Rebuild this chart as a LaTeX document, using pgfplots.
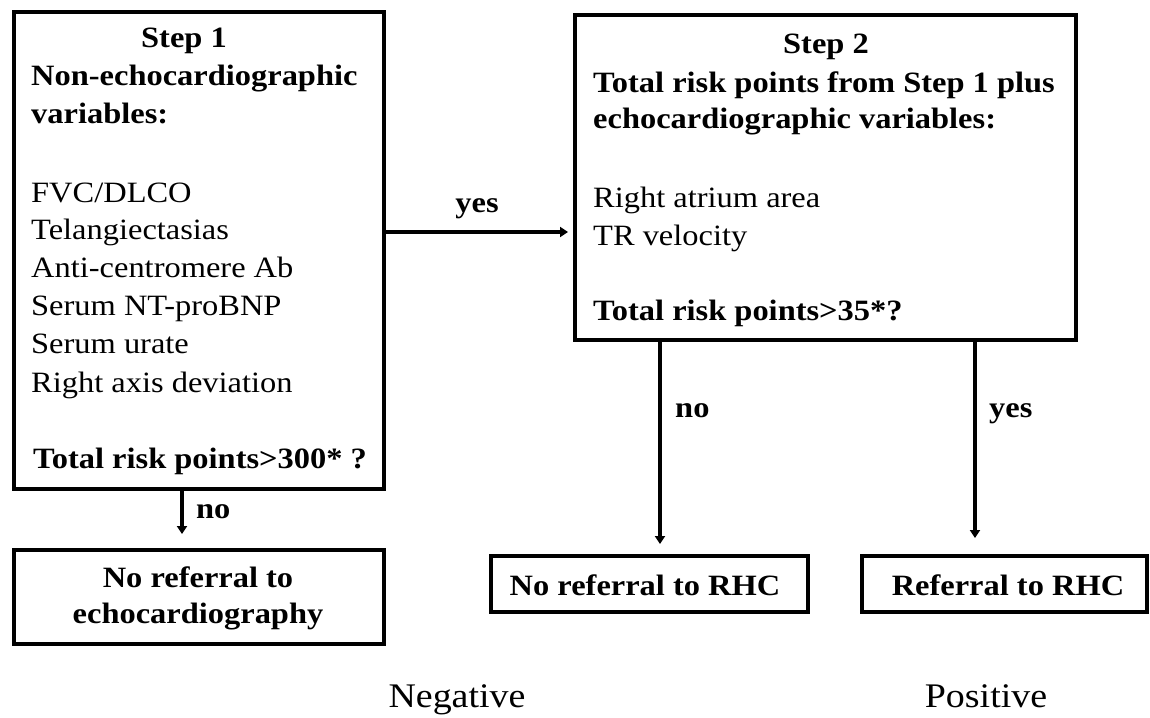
\documentclass[border=0pt]{standalone}
\usepackage{fontspec}
\setmainfont{Liberation Serif}[FakeStretch=1.1]
\usepackage{pgfplots}
\pgfplotsset{compat=1.18}
\usetikzlibrary{arrows.meta}
\tikzset{t/.style={font=\fontsize{29.5}{34}\selectfont, inner sep=0pt},
         tb/.style={font=\fontsize{29.5}{34}\selectfont\bfseries, inner sep=0pt}}
\begin{document}
\begin{tikzpicture}
\begin{axis}[
  scale only axis, width=1150pt, height=717pt,
  xmin=0, xmax=1150, ymin=0, ymax=717, y dir=reverse,
  hide axis, clip=false,
]
% background (sets the bounding box)
\addplot[fill=white, draw=none] coordinates {(0,0) (1150,0) (1150,717) (0,717)} --cycle;
% boxes
\addplot[line width=4pt, line join=miter, black] coordinates {(14,12) (384,12) (384,489) (14,489)} --cycle;
\addplot[line width=4pt, line join=miter, black] coordinates {(575,15) (1076,15) (1076,340) (575,340)} --cycle;
\addplot[line width=4pt, line join=miter, black] coordinates {(14,550) (384,550) (384,644) (14,644)} --cycle;
\addplot[line width=4pt, line join=miter, black] coordinates {(491,556) (808,556) (808,612) (491,612)} --cycle;
\addplot[line width=4pt, line join=miter, black] coordinates {(862,556) (1147,556) (1147,612) (862,612)} --cycle;
% arrows
\addplot[line width=3.5pt, black, -{Triangle[width=10pt,length=8pt]}] coordinates {(384,232) (568,232)};
\addplot[line width=3.5pt, black, -{Triangle[width=10pt,length=8pt]}] coordinates {(182,489) (182,534)};
\addplot[line width=3.5pt, black, -{Triangle[width=10pt,length=8pt]}] coordinates {(660,340) (660,544)};
\addplot[line width=3.5pt, black, -{Triangle[width=10pt,length=8pt]}] coordinates {(975,340) (975,538)};
% Step 1 box text
\node[tb, anchor=base] at (axis cs:184,48) {Step 1};
\node[tb, anchor=base west] at (axis cs:31,85) {Non-echocardiographic};
\node[tb, anchor=base west] at (axis cs:31,123) {variables:};
\node[t, anchor=base west] at (axis cs:31,202) {FVC/DLCO};
\node[t, anchor=base west] at (axis cs:31,239) {Telangiectasias};
\node[t, anchor=base west] at (axis cs:31,277) {Anti-centromere Ab};
\node[t, anchor=base west] at (axis cs:31,315) {Serum NT-proBNP};
\node[t, anchor=base west] at (axis cs:31,353) {Serum urate};
\node[t, anchor=base west] at (axis cs:31,392) {Right axis deviation};
\node[tb, anchor=base west] at (axis cs:33,468) {Total risk points>300* ?};
% Step 2 box text
\node[tb, anchor=base] at (axis cs:826,53) {Step 2};
\node[tb, anchor=base west] at (axis cs:593,92) {Total risk points from Step 1 plus};
\node[tb, anchor=base west] at (axis cs:593,128) {echocardiographic variables:};
\node[t, anchor=base west] at (axis cs:593,207) {Right atrium area};
\node[t, anchor=base west] at (axis cs:593,245) {TR velocity};
\node[tb, anchor=base west] at (axis cs:593,320) {Total risk points>35*?};
% arrow labels
\node[tb, anchor=base] at (axis cs:477,212) {yes};
\node[tb, anchor=base west] at (axis cs:196,518) {no};
\node[tb, anchor=base west] at (axis cs:675,417) {no};
\node[tb, anchor=base west] at (axis cs:989,417) {yes};
% outcome boxes text
\node[tb, anchor=base] at (axis cs:198,587) {No referral to};
\node[tb, anchor=base] at (axis cs:198,623) {echocardiography};
\node[tb, anchor=base] at (axis cs:645,595) {No referral to RHC};
\node[tb, anchor=base] at (axis cs:1008,595) {Referral to RHC};
% bottom labels
\node[inner sep=0pt, anchor=base, font=\fontsize{34.5}{40}\selectfont] at (axis cs:457,707) {Negative};
\node[inner sep=0pt, anchor=base, font=\fontsize{34.5}{40}\selectfont] at (axis cs:986,707) {Positive};
\end{axis}
\end{tikzpicture}
\end{document}
